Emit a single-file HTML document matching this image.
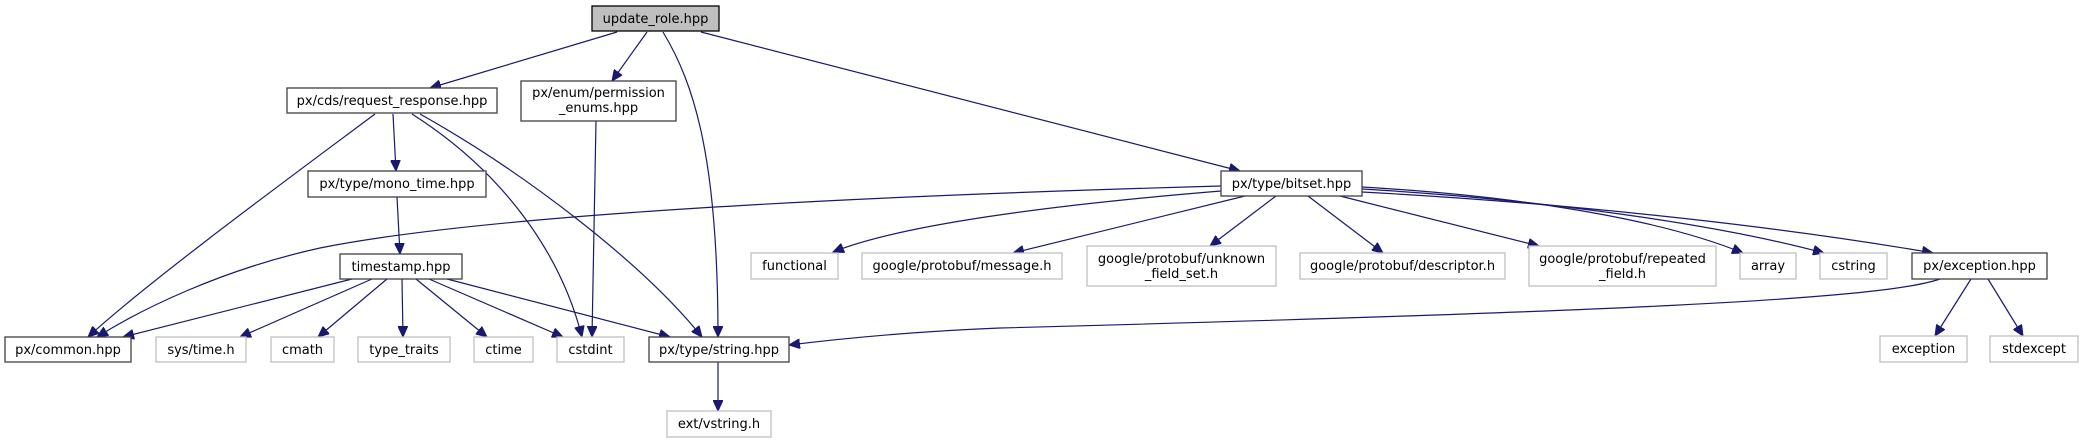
<!DOCTYPE html>
<html><head><meta charset="utf-8"><style>
html,body{margin:0;padding:0;background:#fff;}
svg{display:block;}
text{font-family:"DejaVu Sans","Liberation Sans",sans-serif;font-size:13px;fill:#000;}
.n{fill:#fff;stroke:#404040;stroke-width:1.3;}
.g{fill:#fff;stroke:#bfbfbf;stroke-width:1.3;}
.e{fill:none;stroke:#191970;stroke-width:1.2;}
</style></head><body>
<svg width="2081" height="443" viewBox="0 0 2081 443" xmlns="http://www.w3.org/2000/svg">
<defs>
<marker id="a" markerUnits="userSpaceOnUse" markerWidth="12" markerHeight="10" refX="11" refY="5" orient="auto">
<path d="M0,0 L11,5 L0,10 z" fill="#191970" stroke="#191970"/>
</marker>
</defs>
<g marker-end="url(#a)">
<path class="e" d="M617,32 L430,88"/>
<path class="e" d="M647,32 L612,81"/>
<path class="e" d="M663,32 C695,85 718,160 718,337"/>
<path class="e" d="M701,32 L1240,171"/>
<path class="e" d="M375,114 C300,170 150,280 88,337"/>
<path class="e" d="M393,114 L396,171"/>
<path class="e" d="M412,114 C500,170 560,250 582,337"/>
<path class="e" d="M420,114 C520,170 640,260 702,337"/>
<path class="e" d="M596,121 L592,337"/>
<path class="e" d="M397,197 L400,254"/>
<path class="e" d="M352,279 L123,337"/>
<path class="e" d="M372,279 L240,337"/>
<path class="e" d="M387,279 L318,337"/>
<path class="e" d="M402,279 L403,337"/>
<path class="e" d="M416,279 L487,337"/>
<path class="e" d="M429,279 L563,337"/>
<path class="e" d="M447,279 L670,337"/>
<path class="e" d="M1221,186 C900,195 500,212 320,248 C220,270 140,310 97,337"/>
<path class="e" d="M1221,191 C1050,205 900,225 833,252"/>
<path class="e" d="M1245,196 L1013,253"/>
<path class="e" d="M1276,196 L1210,246"/>
<path class="e" d="M1308,196 L1383,253"/>
<path class="e" d="M1340,196 L1539,246"/>
<path class="e" d="M1362,187 C1500,195 1650,215 1743,253"/>
<path class="e" d="M1362,189 C1550,200 1720,225 1824,253"/>
<path class="e" d="M1362,192 C1600,205 1800,230 1933,253"/>
<path class="e" d="M1940,279 C1880,300 1600,312 1000,328 C900,332 830,340 789,345"/>
<path class="e" d="M1971,279 L1935,336"/>
<path class="e" d="M1988,279 L2023,336"/>
<path class="e" d="M718,362 L718,411"/>
</g>
<!-- nodes -->
<rect x="592" y="6" width="127" height="25" fill="#bfbfbf" stroke="#000" stroke-width="1.3"/>
<text x="655.5" y="23" text-anchor="middle">update_role.hpp</text>

<rect class="n" x="287" y="88" width="210" height="25"/>
<text x="392" y="105" text-anchor="middle">px/cds/request_response.hpp</text>

<rect class="n" x="521" y="81" width="155" height="40"/>
<text x="598.5" y="97" text-anchor="middle">px/enum/permission</text>
<text x="598.5" y="112" text-anchor="middle">_enums.hpp</text>

<rect class="n" x="308" y="171" width="178" height="26"/>
<text x="397" y="188" text-anchor="middle">px/type/mono_time.hpp</text>

<rect class="n" x="340" y="254" width="122" height="25"/>
<text x="401" y="271" text-anchor="middle">timestamp.hpp</text>

<rect class="n" x="5" y="337" width="126" height="25"/>
<text x="68" y="354" text-anchor="middle">px/common.hpp</text>

<rect class="g" x="156" y="337" width="90" height="25"/>
<text x="201" y="354" text-anchor="middle">sys/time.h</text>
<rect class="g" x="271" y="337" width="63" height="25"/>
<text x="302.5" y="354" text-anchor="middle">cmath</text>
<rect class="g" x="358" y="337" width="92" height="25"/>
<text x="404" y="354" text-anchor="middle">type_traits</text>
<rect class="g" x="474" y="337" width="59" height="25"/>
<text x="503.5" y="354" text-anchor="middle">ctime</text>
<rect class="g" x="557" y="337" width="67" height="25"/>
<text x="590.5" y="354" text-anchor="middle">cstdint</text>

<rect class="n" x="649" y="337" width="140" height="25"/>
<text x="719" y="354" text-anchor="middle">px/type/string.hpp</text>
<rect class="g" x="667" y="411" width="104" height="26"/>
<text x="719" y="428" text-anchor="middle">ext/vstring.h</text>

<rect class="n" x="1221" y="171" width="141" height="25"/>
<text x="1291.5" y="188" text-anchor="middle">px/type/bitset.hpp</text>

<rect class="g" x="751" y="253" width="87" height="26"/>
<text x="794.5" y="270" text-anchor="middle">functional</text>
<rect class="g" x="862" y="253" width="200" height="26"/>
<text x="962" y="270" text-anchor="middle">google/protobuf/message.h</text>
<rect class="g" x="1087" y="246" width="189" height="40"/>
<text x="1181.5" y="263" text-anchor="middle">google/protobuf/unknown</text>
<text x="1181.5" y="278" text-anchor="middle">_field_set.h</text>
<rect class="g" x="1300" y="253" width="205" height="26"/>
<text x="1402.5" y="270" text-anchor="middle">google/protobuf/descriptor.h</text>
<rect class="g" x="1529" y="246" width="187" height="40"/>
<text x="1622.5" y="263" text-anchor="middle">google/protobuf/repeated</text>
<text x="1622.5" y="278" text-anchor="middle">_field.h</text>
<rect class="g" x="1740" y="253" width="56" height="26"/>
<text x="1768" y="270" text-anchor="middle">array</text>
<rect class="g" x="1820" y="253" width="67" height="26"/>
<text x="1853.5" y="270" text-anchor="middle">cstring</text>
<rect class="n" x="1912" y="253" width="135" height="26"/>
<text x="1979.5" y="270" text-anchor="middle">px/exception.hpp</text>
<rect class="g" x="1880" y="336" width="87" height="26"/>
<text x="1923.5" y="353" text-anchor="middle">exception</text>
<rect class="g" x="1990" y="336" width="88" height="26"/>
<text x="2034" y="353" text-anchor="middle">stdexcept</text>
</svg>
</body></html>
